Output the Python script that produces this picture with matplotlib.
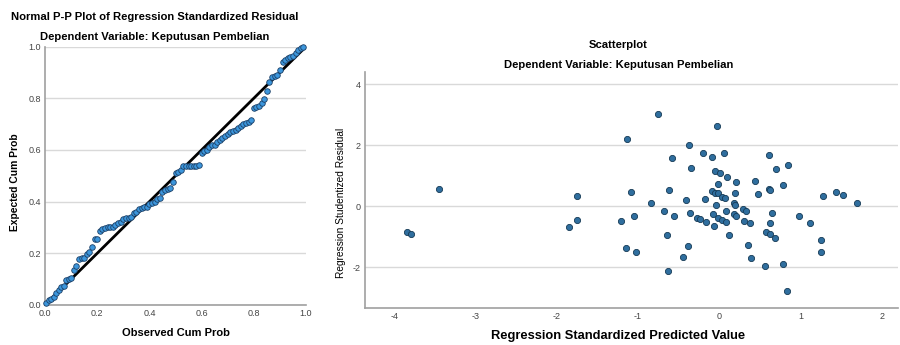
import matplotlib
matplotlib.use("Agg")
import matplotlib.pyplot as plt

plt.rcParams['font.family'] = ['Liberation Sans', 'DejaVu Sans']
plt.rcParams['axes.unicode_minus'] = False

# P-P plot data (observed cum prob, expected cum prob)
pp_observed = [0.005, 0.015, 0.024, 0.034, 0.043, 0.053, 0.063, 0.072, 0.082, 0.092,
               0.101, 0.111, 0.12, 0.13, 0.14, 0.15, 0.16, 0.17, 0.18, 0.19,
               0.2, 0.21, 0.22, 0.23, 0.24, 0.25, 0.26, 0.27, 0.28, 0.29,
               0.3, 0.31, 0.32, 0.33, 0.34, 0.35, 0.36, 0.37, 0.38, 0.39,
               0.4, 0.41, 0.42, 0.43, 0.44, 0.45, 0.46, 0.47, 0.48, 0.49,
               0.5, 0.51, 0.52, 0.53, 0.54, 0.55, 0.56, 0.57, 0.58, 0.59,
               0.6, 0.61, 0.62, 0.63, 0.64, 0.65, 0.66, 0.67, 0.68, 0.69,
               0.7, 0.71, 0.72, 0.73, 0.74, 0.75, 0.76, 0.77, 0.78, 0.79,
               0.8, 0.81, 0.82, 0.83, 0.84, 0.85, 0.86, 0.87, 0.88, 0.89,
               0.9, 0.91, 0.92, 0.93, 0.94, 0.95, 0.96, 0.97, 0.98, 0.99]
pp_expected = [0.006, 0.02, 0.025, 0.03, 0.045, 0.058, 0.07, 0.073, 0.095, 0.1,
               0.103, 0.135, 0.152, 0.177, 0.18, 0.18, 0.197, 0.206, 0.223, 0.254,
               0.254, 0.286, 0.293, 0.297, 0.3, 0.303, 0.303, 0.31, 0.319, 0.323,
               0.332, 0.335, 0.335, 0.342, 0.357, 0.36, 0.372, 0.374, 0.378, 0.381,
               0.391, 0.396, 0.399, 0.409, 0.413, 0.439, 0.445, 0.448, 0.452, 0.474,
               0.51, 0.516, 0.523, 0.538, 0.538, 0.538, 0.538, 0.538, 0.538, 0.542,
               0.587, 0.594, 0.6, 0.613, 0.619, 0.619, 0.632, 0.639, 0.645, 0.652,
               0.661, 0.671, 0.674, 0.677, 0.684, 0.693, 0.7, 0.706, 0.71, 0.716,
               0.761, 0.768, 0.77, 0.783, 0.796, 0.828, 0.861, 0.881, 0.886, 0.89,
               0.91, 0.942, 0.948, 0.955, 0.961, 0.964, 0.977, 0.985, 0.994, 1.0]

# Scatterplot data (standardized predicted value, studentized residual)
sc_pred = [-0.75, -0.03, -1.13, -0.37, -0.58, -0.20, -0.09, 0.06, 0.61, -0.35,
           0.85, 0.70, -0.05, 0.01, 0.10, 0.21, 0.44, -0.01, 0.78, -1.09,
           -0.62, -0.09, -0.05, -0.02, 0.03, 0.07, 0.20, 0.48, 0.61, 0.63,
           1.28, 1.44, 1.52, 1.70, -0.84, -0.41, -0.18, -0.04, 0.18, 0.20,
           0.09, 0.29, 0.33, -0.68, -0.36, -0.08, 0.18, 0.21, 0.65, 0.98,
           -1.21, -1.05, -0.55, -0.27, -0.23, -0.16, -0.01, 0.04, 0.09, -0.06,
           0.31, 0.38, 0.62, 1.12, -0.64, 0.12, 0.58, 0.62, 0.69, 1.26,
           -1.15, -1.03, -0.38, 0.35, -0.45, 0.39, 1.26, 0.56, 0.78, -0.63,
           0.84, -3.45, -3.84, -3.79, -1.75, -1.75, -1.85]
sc_resid = [3.03, 2.63, 2.19, 2.02, 1.57, 1.75, 1.61, 1.74, 1.69, 1.25,
            1.34, 1.21, 1.17, 1.10, 0.95, 0.79, 0.83, 0.73, 0.71, 0.47,
            0.52, 0.50, 0.45, 0.42, 0.31, 0.28, 0.44, 0.40, 0.57, 0.54,
            0.35, 0.47, 0.37, 0.10, 0.11, 0.22, 0.25, 0.04, 0.10, 0.05,
            -0.14, -0.09, -0.14, -0.14, -0.23, -0.26, -0.26, -0.31, -0.23, -0.33,
            -0.48, -0.33, -0.32, -0.37, -0.42, -0.51, -0.37, -0.44, -0.51, -0.66,
            -0.47, -0.56, -0.55, -0.54, -0.94, -0.93, -0.85, -0.91, -1.03, -1.11,
            -1.37, -1.50, -1.31, -1.27, -1.65, -1.69, -1.49, -1.96, -1.90, -2.13,
            -2.78, 0.57, -0.85, -0.92, 0.33, -0.44, -0.68]

pp_ticks = [0.0, 0.2, 0.4, 0.6, 0.8, 1.0]
sc_xticks = [-4, -3, -2, -1, 0, 1, 2]
sc_yticks = [-2, 0, 2, 4]

fig = plt.figure(figsize=(9, 3.45), dpi=100)

grid_col = '#d9d9d9'
spine_col = '#a0a0a0'
tick_col = '#444444'

def style(ax):
    for s in ['top', 'right']:
        ax.spines[s].set_visible(False)
    for s in ['left', 'bottom']:
        ax.spines[s].set_color(spine_col)
        ax.spines[s].set_linewidth(1.2)
    ax.tick_params(length=0, labelsize=6.5, colors=tick_col, pad=3)
    ax.grid(axis='y', color=grid_col, linewidth=1)
    ax.set_axisbelow(True)

# Left: P-P plot
ax1 = fig.add_axes([0.05, 0.116, 0.29, 0.749])
style(ax1)
ax1.plot([0, 1], [0, 1], color='black', linewidth=2, zorder=2)
ax1.scatter(pp_observed, pp_expected, s=16, facecolor='#3c96dc', edgecolor='#1b3f66',
            linewidth=0.6, zorder=3, clip_on=False)
ax1.set_xlim(0, 1)
ax1.set_ylim(0, 1)
ax1.set_xticks(pp_ticks)
ax1.set_yticks(pp_ticks)
ax1.set_xticklabels([f"{t:.1f}" for t in pp_ticks])
ax1.set_yticklabels([f"{t:.1f}" for t in pp_ticks])
ax1.set_xlabel('Observed Cum Prob', fontsize=8, fontweight='bold', va='center')
ax1.xaxis.set_label_coords(0.5, -0.109)
ax1.set_ylabel('Expected Cum Prob', fontsize=7.4, fontweight='bold', va='center')
ax1.yaxis.set_label_coords(-0.115, 0.477)
fig.text(0.172, 0.951, 'Normal P-P Plot of Regression Standardized Residual',
         ha='center', va='center', fontsize=8.1, fontweight='bold')
fig.text(0.172, 0.893, 'Dependent Variable: Keputusan Pembelian',
         ha='center', va='center', fontsize=8.1, fontweight='bold')

# Right: Scatterplot
ax2 = fig.add_axes([0.4056, 0.107, 0.592, 0.684])
style(ax2)
ax2.scatter(sc_pred, sc_resid, s=20, facecolor='#2f6e9e', edgecolor='#163a55',
            linewidth=0.6, zorder=3)
ax2.set_xlim(-4.36, 2.2)
ax2.set_ylim(-3.34, 4.4)
ax2.set_xticks(sc_xticks)
ax2.set_yticks(sc_yticks)
ax2.set_xlabel('Regression Standardized Predicted Value', fontsize=9.3,
               fontweight='bold', va='center')
ax2.xaxis.set_label_coords(0.475, -0.117)
ax2.set_ylabel('Regression Studentized Residual', fontsize=7.3, va='center')
ax2.yaxis.set_label_coords(-0.045, 0.445)
fig.text(0.687, 0.87, 'Scatterplot', ha='center', va='center', fontsize=8.1,
         fontweight='bold')
fig.text(0.687, 0.812, 'Dependent Variable: Keputusan Pembelian',
         ha='center', va='center', fontsize=8.1, fontweight='bold')

fig.savefig('out.png', dpi=100)
